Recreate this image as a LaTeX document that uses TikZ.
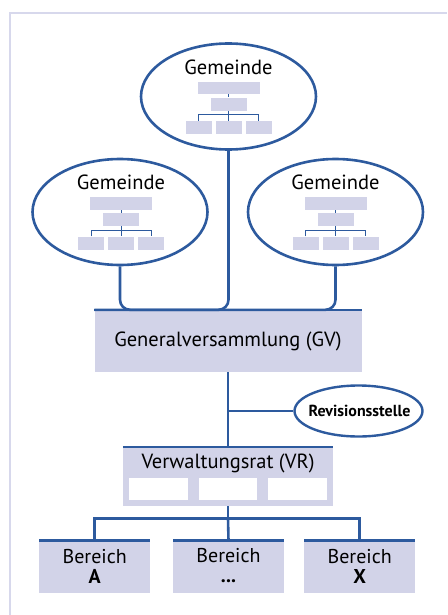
\documentclass[tikz,border=0pt]{standalone}
\usepackage{fontspec}
\setmainfont{PT Sans}
\usetikzlibrary{shapes.geometric}
\definecolor{linkblue}{HTML}{2D5A9E}
\definecolor{lav}{HTML}{D2D3E8}
\definecolor{framec}{HTML}{D7D8EC}
\begin{document}
\begin{tikzpicture}[x=1pt,y=-1pt,
  conn/.style={draw=linkblue,line width=2.6pt},
  thinconn/.style={draw=linkblue,line width=1pt},
  gemeinde/.style={ellipse,draw=linkblue,line width=2.6pt,fill=white,
    minimum width=175pt,minimum height=106pt,inner sep=0pt},
  minibox/.style={fill=lav,inner sep=0pt,minimum height=13pt},
  bigbox/.style={fill=lav,inner sep=0pt},
  whitebox/.style={fill=white,inner sep=0pt,minimum width=58.5pt,minimum height=22.5pt},
  lbl/.style={inner sep=0pt,font=\fontsize{20.5}{24}\selectfont},
  orgchart/.pic={
    \node[minibox,minimum width=62pt,minimum height=12.6pt] (-top) at (0,-8.5) {};
    \node[minibox,minimum width=36pt] (-mid) at (0,7.7) {};
    \node[minibox,minimum width=26pt] (-a) at (-30,31) {};
    \node[minibox,minimum width=26pt] (-b) at (0,31) {};
    \node[minibox,minimum width=26pt] (-c) at (30,31) {};
    \draw[thinconn] (-top) -- (-mid);
    \draw[thinconn] (-mid) -- (-b);
    \draw[thinconn] (-a.north) -- ++(0,-6) -| (-c.north);
  }]
\useasboundingbox (0,0) rectangle (447,615);
% outer frame
\draw[framec,line width=2pt] (9.5,615) -- (9.5,13.5) -- (447,13.5);

% the three communities
\node[gemeinde] (gt) at (228.5,96.5) {};
\node[gemeinde] (gl) at (120,212) {};
\node[gemeinde] (gr) at (335.5,212) {};
\node[lbl] (gtt) at (228.5,67) {Gemeinde};
\node[lbl] (glt) at (121,182.5) {Gemeinde};
\node[lbl] (grt) at (335.5,182.5) {Gemeinde};
\pic (ot) at (228.5,96.5) {orgchart};
\pic (ol) at (121,212) {orgchart};
\pic (or) at (335.5,212) {orgchart};

% general assembly
\node[bigbox,minimum width=267pt,minimum height=62pt] (gv) at (228,341) {};
\node[lbl] (gvt) at (228,341.5) {Generalversammlung (GV)};

% connections from the communities
\draw[conn,rounded corners=10pt] (gl.south) |- (gv.north);
\draw[conn,rounded corners=10pt] (gt.south) |- (gv.north west);
\draw[conn,rounded corners=10pt] (gr.south) |- (gv.north);
\draw[conn] (gv.north west) -- (gv.north east);

% auditors
\node[ellipse,draw=linkblue,line width=2.4pt,fill=white,inner sep=0pt,
  minimum width=128pt,minimum height=51pt] (rev) at (358.5,411) {};
\node[inner sep=0pt,font=\bfseries\fontsize{16}{19}\selectfont] (revt) at (359.5,411) {Revisionsstelle};

% board of directors
\node[bigbox,minimum width=210pt,minimum height=59pt] (vr) at (228,476.5) {};
\node[lbl] (vrt) at (228,463) {Verwaltungsrat (VR)};
\node[whitebox] (vr1) at (158.5,489) {};
\node[whitebox] (vr2) at (228,489) {};
\node[whitebox] (vr3) at (297.5,489) {};

\coordinate (rj) at (gv.south |- rev.west);
\draw[conn] (gv.south) -- (vr.north);
\draw[conn] (rj) -- (rev.west);
\draw[conn] (vr.north west) -- (vr.north east);

% divisions
\node[bigbox,minimum width=110.5pt,minimum height=52.6pt] (ba) at (94.7,567) {};
\node[bigbox,minimum width=110.5pt,minimum height=52.6pt] (bm) at (228.5,567) {};
\node[bigbox,minimum width=110.5pt,minimum height=52.6pt] (bx) at (359.7,567) {};
\node[lbl,align=center,font=\fontsize{20}{20}\selectfont] (bat) at (94.7,566) {Bereich\\\textbf{A}};
\node[lbl,align=center,font=\fontsize{20}{20}\selectfont] (bmt) at (228.5,566) {Bereich\\\textbf{...}};
\node[lbl,align=center,font=\fontsize{20}{20}\selectfont] (bxt) at (359.7,566) {Bereich\\\textbf{X}};

\coordinate (bj) at (228,518.3);
\draw[conn] (vr.south) -- (bj);
\draw[conn] (ba.north) |- (bj) -| (bx.north);
\draw[conn] (bj) -- (bm.north);
\foreach \b in {ba,bm,bx} \draw[conn] (\b.north west) -- (\b.north east);
\end{tikzpicture}
\end{document}
